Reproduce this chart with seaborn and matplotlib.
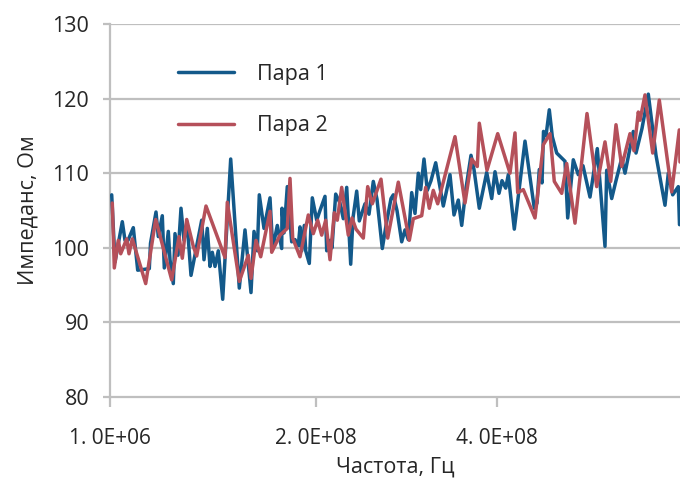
import matplotlib
matplotlib.use("Agg")
import matplotlib.pyplot as plt
import seaborn as sns
import pandas as pd

# ---- data (position along the category axis, impedance in Ohm) ----
pair1_pos = [1.7, 5, 12.3, 15, 18, 23.3, 27.7, 39.3, 40.5, 46, 48.3, 52.3, 54.3, 58.3, 60, 63.3,
             65, 68, 71, 74, 77, 81, 91.7, 94, 97.3, 100, 102.3, 105, 108.3, 112.7, 120.7,
             129.3, 135, 141, 144, 147.3, 149.3, 154, 160, 162.7, 167.3, 171.7, 172, 174,
             177.3, 181.7, 185, 188.3, 190, 191.7, 194.3, 195.7, 199.3, 202.3, 206.7, 210,
             215, 216.7, 220, 222, 225.7, 230, 233.3, 236.7, 240.7, 243, 246.7, 249.3, 255,
             259, 263.3, 267, 272.3, 276, 281, 283.3, 287, 291.7, 295, 298.3, 301.7, 305,
             308.3, 310.7, 314, 317.3, 321, 325.7, 333.3, 340, 344, 348.3, 351.7, 356, 361,
             364, 369.3, 376.7, 381.7, 385, 389, 392, 395.7, 398.3, 404.3, 415, 424.3, 427,
             429.3, 432, 433.5, 436, 439.3, 442.3, 446.7, 455, 457.7, 463.3, 468.3, 473, 480,
             487.3, 495, 496.7, 501.7, 506, 511.7, 515, 523.3, 526, 532, 538.3, 546, 555,
             558.3, 562.7, 568.3, 569.5]
pair1_val = [107.1, 98.1, 103.5, 101.0, 101.0, 102.7, 97.0, 97.2, 100.6, 104.8, 101.5, 104.3,
             97.3, 102.2, 98.4, 95.2, 101.9, 99.0, 105.3, 101.0, 103.5, 96.3, 103.7, 98.4,
             102.6, 97.5, 99.4, 97.5, 99.6, 93.1, 111.9, 94.6, 102.4, 94.0, 102.2, 99.6,
             107.1, 102.6, 106.7, 99.9, 103.0, 99.9, 105.3, 102.0, 108.2, 100.8, 101.1, 100.3,
             102.8, 99.6, 103.0, 99.6, 97.9, 106.7, 103.7, 105.0, 106.9, 99.6, 101.0, 100.0,
             107.2, 106.0, 103.9, 108.1, 97.8, 104.0, 107.6, 103.6, 105.9, 104.5, 108.9,
             106.5, 99.9, 103.0, 106.6, 107.1, 105.0, 100.8, 102.4, 101.1, 107.4, 104.6,
             110.0, 107.8, 111.9, 107.7, 109.0, 111.4, 105.6, 109.8, 104.4, 106.4, 103.0,
             108.0, 112.4, 110.5, 105.3, 110.1, 106.6, 110.2, 107.3, 109.0, 108.0, 109.8,
             102.5, 114.3, 105.3, 106.0, 110.5, 108.7, 115.6, 115.0, 118.5, 114.9, 112.7,
             111.6, 104.0, 111.8, 109.8, 111.0, 106.8, 113.3, 100.2, 110.4, 106.6, 109.0,
             112.0, 110.0, 115.6, 112.7, 116.0, 120.6, 112.4, 105.7, 110.0, 107.1, 108.2,
             103.1]

pair2_pos = [2.3, 4.3, 8.3, 10.7, 16.7, 19, 22.3, 35.7, 45.7, 61.7, 69, 72.3, 76.7, 83.3,
             86.7, 96, 115, 117.3, 129.3, 138.3, 141, 146, 150.7, 160, 161.7, 170, 177.3,
             180, 182.7, 190, 198.3, 203.3, 207.7, 211.7, 215.7, 220, 224.3, 227.3, 231.7,
             238.3, 242, 246, 253.3, 257.7, 262.3, 271, 277.7, 288.3, 299.3, 303.3, 311.7,
             315.7, 319.3, 323.3, 327.7, 345, 355, 361.7, 367.3, 369.3, 377, 387.7, 400,
             405, 407.7, 413.3, 425, 433.3, 440, 444.3, 451.7, 456.7, 465, 477, 486.7, 495,
             500.7, 506, 511.7, 520, 524, 528.3, 530, 535, 542.7, 549.3, 561.7, 569.3, 570]
pair2_val = [106.0, 97.3, 101.0, 99.2, 101.2, 99.2, 101.2, 95.2, 103.8, 95.7, 101.5, 98.6,
             103.8, 100.2, 98.9, 105.6, 98.7, 106.1, 95.5, 99.0, 95.9, 101.0, 98.8, 104.9,
             99.4, 101.7, 102.6, 109.3, 101.3, 98.8, 104.4, 101.9, 103.7, 101.7, 103.7, 98.4,
             104.7, 103.7, 108.1, 101.7, 104.0, 102.5, 101.3, 108.2, 105.9, 109.2, 101.3,
             108.8, 101.0, 103.9, 104.3, 108.1, 105.3, 107.7, 105.9, 114.9, 106.0, 111.9,
             110.9, 116.7, 110.4, 115.3, 110.0, 115.4, 107.4, 107.8, 104.0, 113.8, 115.3,
             108.9, 107.3, 111.3, 103.3, 118.0, 108.2, 114.2, 108.9, 116.5, 110.9, 115.3,
             113.0, 118.2, 117.1, 120.5, 112.7, 119.8, 107.5, 115.8, 111.5]

series_names = ["Пара 1", "Пара 2"]
tick_pos = [0, 206, 387]
tick_labels = ["1. 0E+06", "2. 0E+08", "4. 0E+08"]
y_ticks = [80, 90, 100, 110, 120, 130]

df1 = pd.DataFrame({"pos": pair1_pos, "val": pair1_val})
df2 = pd.DataFrame({"pos": pair2_pos, "val": pair2_val})

sns.set_theme(style="white")
plt.rcParams["font.family"] = ["Open Sans", "DejaVu Sans"]

fig = plt.figure(figsize=(6.8, 4.84), dpi=100)
ax = fig.add_axes([110 / 680, 1 - 397 / 484, 570 / 680, 373 / 484])

grid_c = "#bfbfbf"
txt_c = "#262626"
fs = 15.5
for yv in y_ticks[1:]:
    ax.axhline(yv, color=grid_c, lw=1.6, zorder=0)

sns.lineplot(data=df1, x="pos", y="val", color="#13598a", lw=2.5, label=series_names[0],
             sort=False, ax=ax, zorder=3)
sns.lineplot(data=df2, x="pos", y="val", color="#b5505a", lw=2.5, label=series_names[1],
             sort=False, ax=ax, zorder=4)

ax.set_xlim(0, 570)
ax.set_ylim(80, 130)
ax.set_yticks(y_ticks)
ax.set_xticks(tick_pos)
ax.set_xticklabels(tick_labels)

for s in ["top", "right"]:
    ax.spines[s].set_visible(False)
for s in ["left", "bottom"]:
    ax.spines[s].set_color(grid_c)
    ax.spines[s].set_linewidth(1.6)

ax.tick_params(axis="x", length=7, width=1.6, color=grid_c, pad=15, labelsize=fs - 0.5,
               labelcolor=txt_c, direction="out", bottom=True)
ax.tick_params(axis="y", length=5, width=1.6, color=grid_c, pad=10, labelsize=fs,
               labelcolor=txt_c, direction="out", left=True)

ax.set_xlabel("Частота, Гц", fontsize=fs, color=txt_c, labelpad=6)
ax.set_ylabel("Импеданс, Ом", fontsize=fs, color=txt_c, labelpad=10)

leg = ax.legend(loc="upper left", bbox_to_anchor=(0.12, 0.893), frameon=False,
                fontsize=fs, handlelength=2.6, handletextpad=1.05, labelspacing=1.4,
                borderpad=0, borderaxespad=0)
for t in leg.get_texts():
    t.set_color(txt_c)

fig.savefig("out.png", dpi=100)
